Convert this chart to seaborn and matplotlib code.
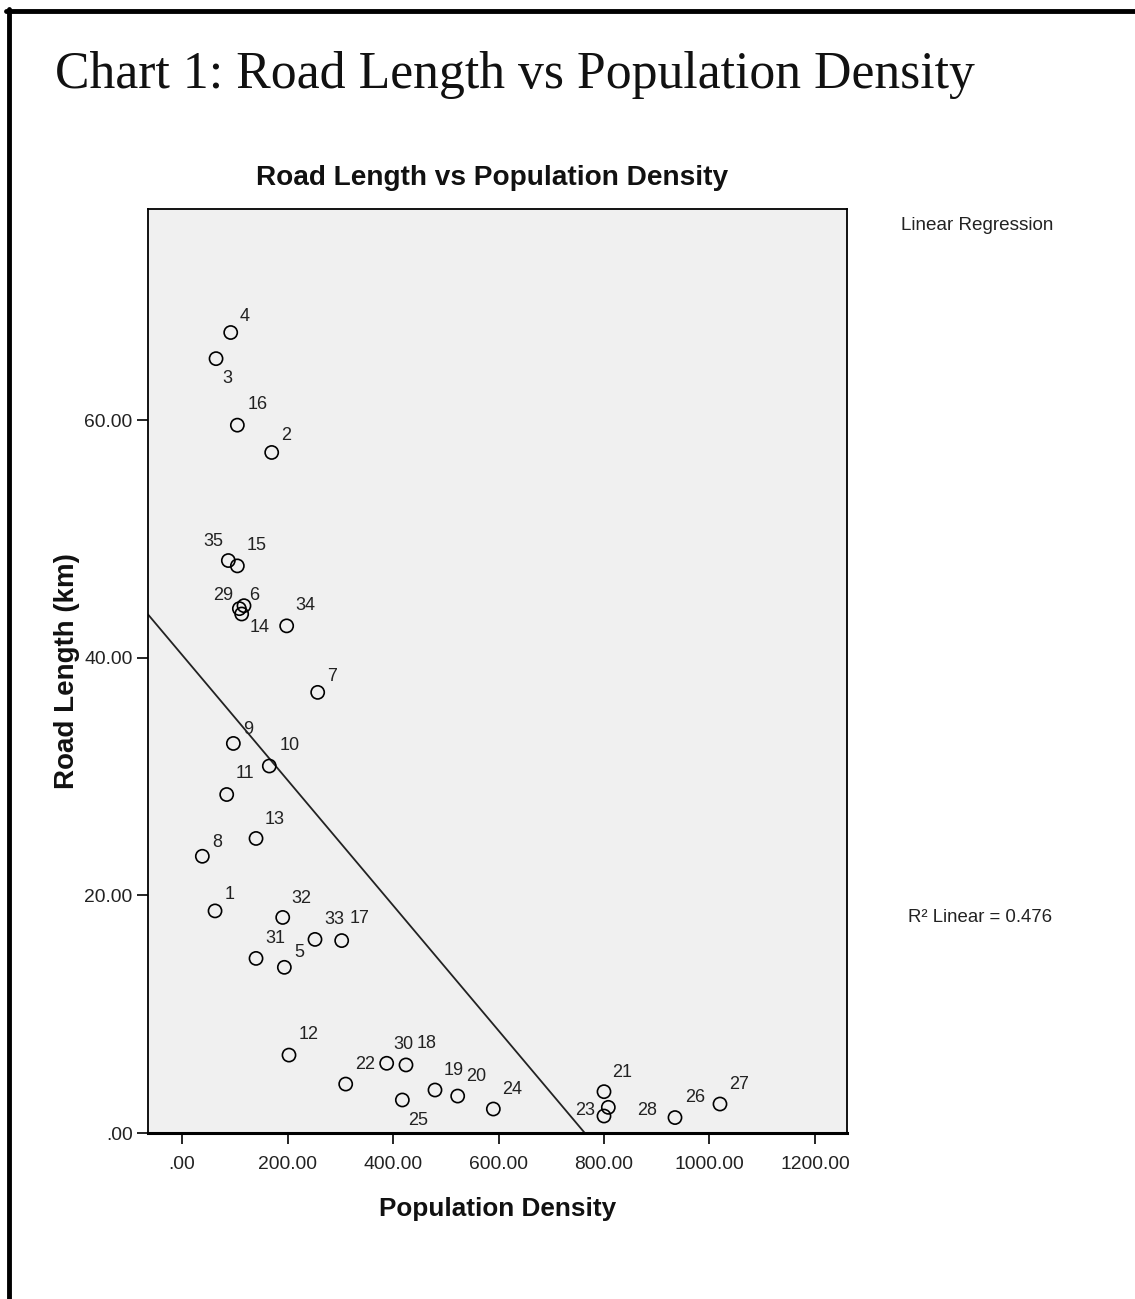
import numpy as np
import pandas as pd
import matplotlib
matplotlib.use("Agg")
import matplotlib.pyplot as plt
from matplotlib.lines import Line2D
import seaborn as sns

# ---------------- data ----------------
case_ids = [1, 2, 3, 4, 5, 6, 7, 8, 9, 10, 11, 12, 13, 14, 15, 16, 17, 18,
            19, 20, 21, 22, 23, 24, 25, 26, 27, 28, 29, 30, 31, 32, 33, 34, 35]
population_density = [62.6, 170.0, 64.5, 92.3, 194.0, 117.5, 257.2, 38.5, 97.3,
                      165.5, 84.7, 202.8, 140.3, 113.1, 104.9, 104.9, 302.7, 424.6,
                      479.6, 522.6, 800.0, 310.3, 800.0, 590.2, 417.7, 934.6, 1019.9,
                      808.2, 108.7, 388.0, 140.3, 190.9, 252.1, 198.4, 87.8]
road_length = [18.7, 57.3, 65.2, 67.4, 13.95, 44.4, 37.1, 23.3, 32.8,
               30.9, 28.5, 6.56, 24.8, 43.7, 47.75, 59.6, 16.2, 5.73,
               3.62, 3.11, 3.48, 4.12, 1.43, 2.02, 2.78, 1.30, 2.44,
               2.16, 44.15, 5.87, 14.7, 18.15, 16.3, 42.7, 48.2]

x_ticks = [0, 200, 400, 600, 800, 1000, 1200]
x_tick_labels = [".00", "200.00", "400.00", "600.00", "800.00", "1000.00", "1200.00"]
y_ticks = [0, 20, 40, 60]
y_tick_labels = [".00", "20.00", "40.00", "60.00"]

main_title = "Chart 1: Road Length vs Population Density"
chart_title = "Road Length vs Population Density"
x_label = "Population Density"
y_label = "Road Length (km)"
fit_title = "Linear Regression"
fit_note = "R\u00b2 Linear = 0.476"

# label offsets (pixels) for the case-number annotations
label_offsets = {
    1: (15, 16), 2: (14, 17), 3: (11, -20), 4: (14, 16), 5: (15, 15), 6: (10, 10),
    7: (14, 16), 8: (15, 14), 9: (15, 14), 10: (20, 21), 11: (18, 21), 12: (20, 21),
    13: (19, 19), 14: (18, -14), 15: (19, 20), 16: (20, 21), 17: (18, 22), 18: (21, 21),
    19: (19, 20), 20: (19, 20), 21: (18, 19), 22: (19, 20), 23: (-19, 6), 24: (19, 20),
    25: (16, -21), 26: (20, 20), 27: (19, 20), 28: (39, -3), 29: (-16, 13), 30: (17, 19),
    31: (19, 20), 32: (19, 19), 33: (19, 20), 34: (19, 20), 35: (-15, 19),
}

df = pd.DataFrame({"case": case_ids, "density": population_density, "road": road_length})

# ---------------- figure ----------------
sns.set_style("ticks")
plt.rcParams["font.family"] = ["Liberation Sans", "DejaVu Sans"]

W, H = 1135, 1299
fig = plt.figure(figsize=(W / 100, H / 100), dpi=100)
fig.patch.set_facecolor("white")

ax_l, ax_r, ax_t, ax_b = 148, 847, 209, 1133
ax = fig.add_axes([ax_l / W, 1 - ax_b / H, (ax_r - ax_l) / W, (ax_b - ax_t) / H])
ax.set_facecolor("#f0f0f0")

ax.set_xlim(-64.5, 1260.7)
ax.set_ylim(0, 77.8)

sns.scatterplot(data=df, x="density", y="road", ax=ax, marker="o", s=90,
                facecolors="none", edgecolors="black", linewidths=1.2,
                legend=False, zorder=3)
sns.regplot(data=df, x="density", y="road", ax=ax, scatter=False, ci=None,
            truncate=False, line_kws=dict(color="#222222", lw=1.3))
ax.set_xlim(-64.5, 1260.7)
ax.set_ylim(0, 77.8)

for cid, xv, yv in zip(case_ids, population_density, road_length):
    dx, dy = label_offsets[cid]
    ax.annotate(str(cid), (xv, yv), xytext=(dx, dy), textcoords="offset pixels",
                ha="center", va="center", fontsize=13, color="#222222", zorder=4)

ax.set_xticks(x_ticks)
ax.set_xticklabels(x_tick_labels)
ax.set_yticks(y_ticks)
ax.set_yticklabels(y_tick_labels)
ax.tick_params(axis="both", direction="out", length=8, width=1.2, color="black",
               labelsize=13.9, labelcolor="#222222", pad=3)
ax.tick_params(axis="x", pad=8.5)
for sp in ax.spines.values():
    sp.set_visible(True)
    sp.set_color("black")
    sp.set_linewidth(1.3)
ax.spines["bottom"].set_linewidth(2.2)

ax.set_xlabel("")
ax.set_ylabel("")
fig.text(498 / W, 1 - 1209 / H, x_label, ha="center", va="center",
         fontsize=18.8, fontweight="bold", color="#111111")
fig.text(67 / W, 1 - 671 / H, y_label, ha="center", va="center", rotation=90,
         fontsize=20, fontweight="bold", color="#111111")
fig.text(492 / W, 1 - 178 / H, chart_title, ha="center", va="center",
         fontsize=20.2, fontweight="bold", color="#111111")
fig.text(55 / W, 1 - 75 / H, main_title, ha="left", va="center",
         fontsize=37.3, family=["Liberation Serif", "DejaVu Serif"], color="#111111")
fig.text(901 / W, 1 - 226 / H, fit_title, ha="left", va="center",
         fontsize=13.6, color="#222222")
fig.text(908 / W, 1 - 918 / H, fit_note, ha="left", va="center",
         fontsize=13.4, color="#222222")

# outer frame (top and left black border)
fig.add_artist(Line2D([6 / W, 1.0], [1 - 11 / H, 1 - 11 / H], color="black", lw=3.5,
                      transform=fig.transFigure))
fig.add_artist(Line2D([8.5 / W, 8.5 / W], [0.0, 1 - 9 / H], color="black", lw=3.5,
                      transform=fig.transFigure))

fig.savefig("out.png", dpi=100, facecolor="white")
